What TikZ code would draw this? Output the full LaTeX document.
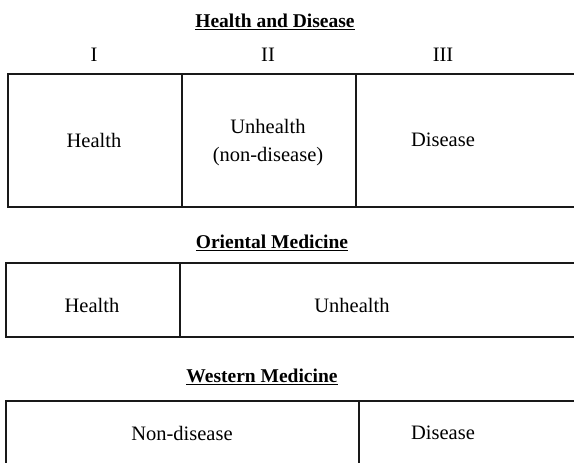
\documentclass[tikz,border=0pt]{standalone}
\usepackage{fontspec}
\setmainfont{Liberation Serif}
\begin{document}
\begin{tikzpicture}[x=1pt,y=-1pt,
  cell/.style={draw=black!90,line width=1.6pt,rectangle,inner sep=0pt,anchor=north west},
  label/.style={font=\fontsize{20.5}{28}\selectfont,align=center,inner sep=0pt},
  title/.style={font=\fontsize{19.5}{23}\selectfont\bfseries},
  numeral/.style={font=\fontsize{20.5}{24}\selectfont}]
\clip (0,0) rectangle (574,463);
\fill[white] (0,0) rectangle (574,463);
% Health and Disease
\node[title] (t1) at (275,22) {\underline{Health and Disease}};
\node[numeral] (n1) at (94,55) {I};
\node[numeral] (n2) at (268,55) {II};
\node[numeral] (n3) at (443,55) {III};
\node[cell,minimum width=174pt,minimum height=133pt] (c1) at (7,73) {};
\node[cell,minimum width=174pt,minimum height=133pt] (c2) at (181,73) {};
\node[cell,minimum width=240pt,minimum height=133pt] (c3) at (355,73) {};
\node[label] (l1) at (94,140) {Health};
\node[label] (l2) at (268,143) {Unhealth\\(non-disease)};
\node[label] (l3) at (443,140) {Disease};
% Oriental Medicine
\node[title] (t2) at (272,243) {\underline{Oriental Medicine}};
\node[cell,minimum width=174pt,minimum height=74pt] (o1) at (5,262) {};
\node[cell,minimum width=420pt,minimum height=74pt] (o2) at (179,262) {};
\node[label] (l4) at (92,305) {Health};
\node[label] (l5) at (352,305) {Unhealth};
% Western Medicine
\node[title] (t3) at (262,377) {\underline{Western Medicine}};
\node[cell,minimum width=353pt,minimum height=66pt] (w1) at (5,400) {};
\node[cell,minimum width=240pt,minimum height=66pt] (w2) at (358,400) {};
\node[label] (l6) at (182,433) {Non-disease};
\node[label] (l7) at (443,433) {Disease};
\end{tikzpicture}
\end{document}
